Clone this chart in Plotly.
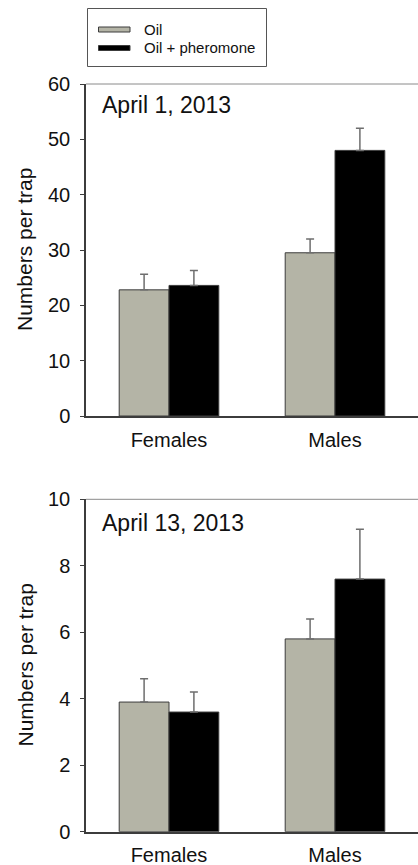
import plotly.graph_objects as go

# Trap catches by sex, two sampling dates
categories = ["Females", "Males"]
series_names = ["Oil", "Oil + pheromone"]

apr1_oil = [22.8, 29.5]
apr1_oil_se = [2.8, 2.5]
apr1_pher = [23.6, 48.0]
apr1_pher_se = [2.7, 4.0]

apr13_oil = [3.9, 5.8]
apr13_oil_se = [0.7, 0.6]
apr13_pher = [3.6, 7.6]
apr13_pher_se = [0.6, 1.5]

panel_titles = ["April 1, 2013", "April 13, 2013"]
y_title = "Numbers per trap"
top_ticks = [0, 10, 20, 30, 40, 50, 60]
bottom_ticks = [0, 2, 4, 6, 8, 10]

OIL_COLOR = "#b4b4a6"
PHER_COLOR = "#000000"
EDGE = "#3c3c3c"
ERR = "#6e6e6e"
FONT = "Liberation Sans, Arial, sans-serif"

W, H = 418, 865


def py(px_from_top):
    return (H - px_from_top) / H


fig = go.Figure()

panels = [
    ("x", "y", apr1_oil, apr1_oil_se, apr1_pher, apr1_pher_se),
    ("x2", "y2", apr13_oil, apr13_oil_se, apr13_pher, apr13_pher_se),
]
for xa, ya, oil, oil_se, pher, pher_se in panels:
    for vals, se, color, name in [
        (oil, oil_se, OIL_COLOR, series_names[0]),
        (pher, pher_se, PHER_COLOR, series_names[1]),
    ]:
        fig.add_trace(go.Bar(
            x=categories, y=vals, name=name, xaxis=xa, yaxis=ya,
            marker=dict(color=color, line=dict(color=EDGE, width=1)),
            error_y=dict(type="data", array=se, arrayminus=[0] * len(se),
                         symmetric=False, color=ERR, thickness=1.5, width=4),
            showlegend=False,
        ))

x_dom = [86 / W, 1.0]
axis_common = dict(
    showgrid=False, zeroline=False, showline=True, linecolor=EDGE, linewidth=1.5,
    tickfont=dict(family=FONT, size=20, color="#111111"), automargin=False,
)
y_common = dict(ticks="outside", ticklen=4, tickcolor=EDGE, ticklabelstandoff=6,
                **axis_common)
x_common = dict(range=[-0.5, 1.5], ticks="", ticklabelstandoff=5, **axis_common)

fig.update_layout(
    width=W, height=H, margin=dict(l=0, r=0, t=0, b=0),
    paper_bgcolor="white", plot_bgcolor="white",
    barmode="group", bargap=0.4, bargroupgap=0,
    font=dict(family=FONT, color="#111111"),
    xaxis=dict(domain=x_dom, anchor="y", **x_common),
    yaxis=dict(domain=[py(416), py(84)], anchor="x", range=[0, 60],
               tickvals=top_ticks, **y_common),
    xaxis2=dict(domain=x_dom, anchor="y2", **x_common),
    yaxis2=dict(domain=[py(831.7), py(499.3)], anchor="x2", range=[0, 10],
                tickvals=bottom_ticks, **y_common),
)

shapes = []
annotations = []

# Top frame line and axis title of each panel
for top, bottom in ((84, 416), (499.3, 831.7)):
    shapes.append(dict(type="line", xref="paper", yref="paper",
                       x0=86 / W, x1=1.0, y0=py(top), y1=py(top),
                       line=dict(color="#8a8a8a", width=1)))
    annotations.append(dict(text=y_title, xref="paper", yref="paper",
                            x=25 / W, y=py((top + bottom) / 2), textangle=-90,
                            xanchor="center", yanchor="middle", showarrow=False,
                            font=dict(family=FONT, size=21, color="#111111")))

# Panel date labels
for title, ycen in zip(panel_titles, (105, 523)):
    annotations.append(dict(text=title, xref="paper", yref="paper",
                            x=100 / W, y=py(ycen), xanchor="left", yanchor="middle",
                            showarrow=False,
                            font=dict(family=FONT, size=23, color="#111111")))

# Legend box
shapes.append(dict(type="rect", xref="paper", yref="paper",
                   x0=87.5 / W, x1=266.5 / W, y0=py(66.5), y1=py(8.5),
                   line=dict(color="#555555", width=1), fillcolor="white"))
for name, color, ycen in zip(series_names, (OIL_COLOR, PHER_COLOR), (29.5, 48)):
    shapes.append(dict(type="rect", xref="paper", yref="paper",
                       x0=98.5 / W, x1=130 / W, y0=py(ycen + 2.5), y1=py(ycen - 2.5),
                       line=dict(color=EDGE, width=1), fillcolor=color))
    annotations.append(dict(text=name, xref="paper", yref="paper",
                            x=142 / W, y=py(ycen), xanchor="left", yanchor="middle",
                            showarrow=False,
                            font=dict(family=FONT, size=15, color="#111111")))

fig.update_layout(shapes=shapes, annotations=annotations)

fig.write_html("out.html")
